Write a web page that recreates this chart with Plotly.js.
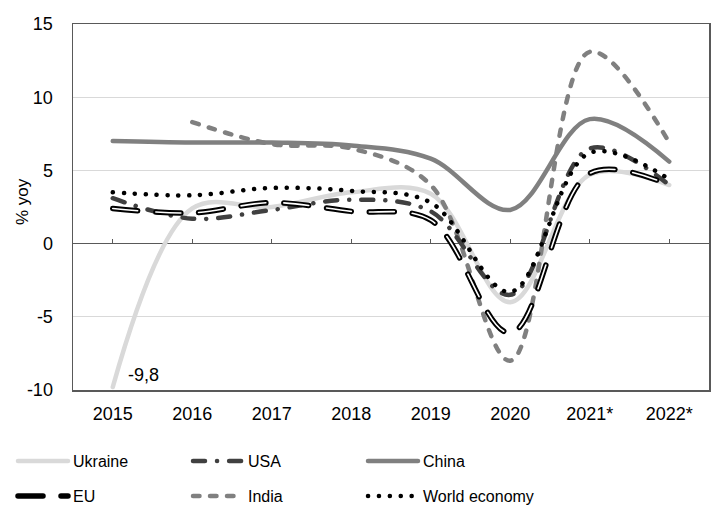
<!DOCTYPE html>
<html><head><meta charset="utf-8">
<script src="https://cdn.plot.ly/plotly-3.0.1.min.js"></script>
<style>
html,body{margin:0;padding:0;background:#fff;}
#chart{width:716px;height:507px;}
path.js-line{stroke-linecap:round !important;}
</style></head>
<body><div id="chart"></div>
<script>
const years = ['2015','2016','2017','2018','2019','2020','2021*','2022*'];
const ukraine = [-9.8, 2.4, 2.5, 3.5, 3.4, -4.0, 4.7, 4.0];
const usa = [3.1, 1.7, 2.3, 3.0, 2.2, -3.5, 6.5, 4.0];
const china = [7.0, 6.9, 6.9, 6.7, 5.8, 2.3, 8.5, 5.6];
const eu = [2.4, 2.1, 2.8, 2.2, 1.6, -6.1, 4.8, 4.0];
const india = [null, 8.3, 6.8, 6.5, 4.0, -8.0, 13.1, 6.9];
const world = [3.5, 3.3, 3.8, 3.6, 2.8, -3.3, 6.2, 4.4];
const yTickVals = [-10, -5, 0, 5, 10, 15];
const yTickText = ['-10', '-5', '0', '5', '10', '15'];
const ukraineLabel = '-9,8';
const yTitle = '% yoy';

const tickFont = {family:'Liberation Sans, Arial, sans-serif', size:18, color:'#000'};
const legFont = {family:'Liberation Sans, Arial, sans-serif', size:16, color:'#000'};
const titleFont = {family:'Liberation Sans, Arial, sans-serif', size:17, color:'#000'};

function tr(name, y, line, legend, rank, extra){
  return Object.assign({type:'scatter', mode:'lines', name:name, x:years, y:y,
    line:Object.assign({shape:'spline', smoothing:1}, line), legend:legend, legendrank:rank,
    connectgaps:false, hoverinfo:'skip'}, extra||{});
}
const data = [
  tr('Ukraine', ukraine, {color:'#d9d9d9', width:4.5}, 'legend', 1),
  tr('China', china, {color:'#808080', width:4.5}, 'legend', 3),
  tr('India', india, {color:'#808080', width:4.5, dash:'6.5px,10.5px'}, 'legend2', 2),
  tr('USA', usa, {color:'#404040', width:4.5, dash:'12px,12px,0.1px,12px'}, 'legend', 2),
  tr('EU', eu, {color:'#000000', width:5.5, dash:'25px,18px'}, 'legend2', 1),
  tr('EU inner', eu, {color:'#ffffff', width:1.6, dash:'25px,18px'}, 'legend2', 9, {showlegend:false}),
  tr('World economy', world, {color:'#000000', width:4.5, dash:'0.1px,10.8px'}, 'legend2', 3),
  {type:'scatter', mode:'lines', x:years, y:years.map(()=>null), xaxis:'x2', showlegend:false, hoverinfo:'skip'}
];

const legBase = {orientation:'h', xref:'container', yref:'container', xanchor:'left', yanchor:'middle',
  x:13/716, entrywidth:110, entrywidthmode:'pixels', itemwidth:50, font:legFont, bgcolor:'rgba(0,0,0,0)',
  traceorder:'normal', itemclick:false, itemdoubleclick:false};

const layout = {
  width:716, height:507,
  margin:{l:73, r:7, t:24, b:117},
  paper_bgcolor:'#fff', plot_bgcolor:'#fff',
  showlegend:true,
  xaxis:{type:'category', range:[-0.5,7.5], showgrid:false, zeroline:false,
    showline:true, mirror:true, linecolor:'#595959', linewidth:1.5,
    ticks:'', tickfont:tickFont, ticklabelstandoff:7, fixedrange:true},
  xaxis2:{type:'category', overlaying:'x', range:[-0.5,7.5], anchor:'free', position:0.4, side:'top',
    ticks:'outside', ticklen:5, tickwidth:1.2, tickcolor:'#595959', showticklabels:false,
    showline:false, showgrid:false, zeroline:false, fixedrange:true},
  yaxis:{range:[-10,15], tickmode:'array', tickvals:yTickVals, ticktext:yTickText,
    showgrid:true, gridcolor:'#d9d9d9', gridwidth:1,
    zeroline:true, zerolinecolor:'#595959', zerolinewidth:1.5,
    showline:true, mirror:true, linecolor:'#595959', linewidth:1.5,
    ticks:'', tickfont:tickFont, ticklabelstandoff:15, fixedrange:true},
  legend:Object.assign({}, legBase, {y:1-461/507}),
  legend2:Object.assign({}, legBase, {y:1-496/507}),
  annotations:[
    {x:years.indexOf(years[0]), y:ukraine[0], xref:'x', yref:'y', text:ukraineLabel, showarrow:false,
     xanchor:'left', yanchor:'middle', xshift:13, yshift:12, font:tickFont},
    {x:0, y:0.5, xref:'paper', yref:'paper', text:yTitle, showarrow:false, textangle:-90,
     xanchor:'center', yanchor:'middle', xshift:-51, yshift:5, font:titleFont}
  ]
};
Plotly.newPlot('chart', data, layout, {displayModeBar:false, staticPlot:true});
</script></body></html>
